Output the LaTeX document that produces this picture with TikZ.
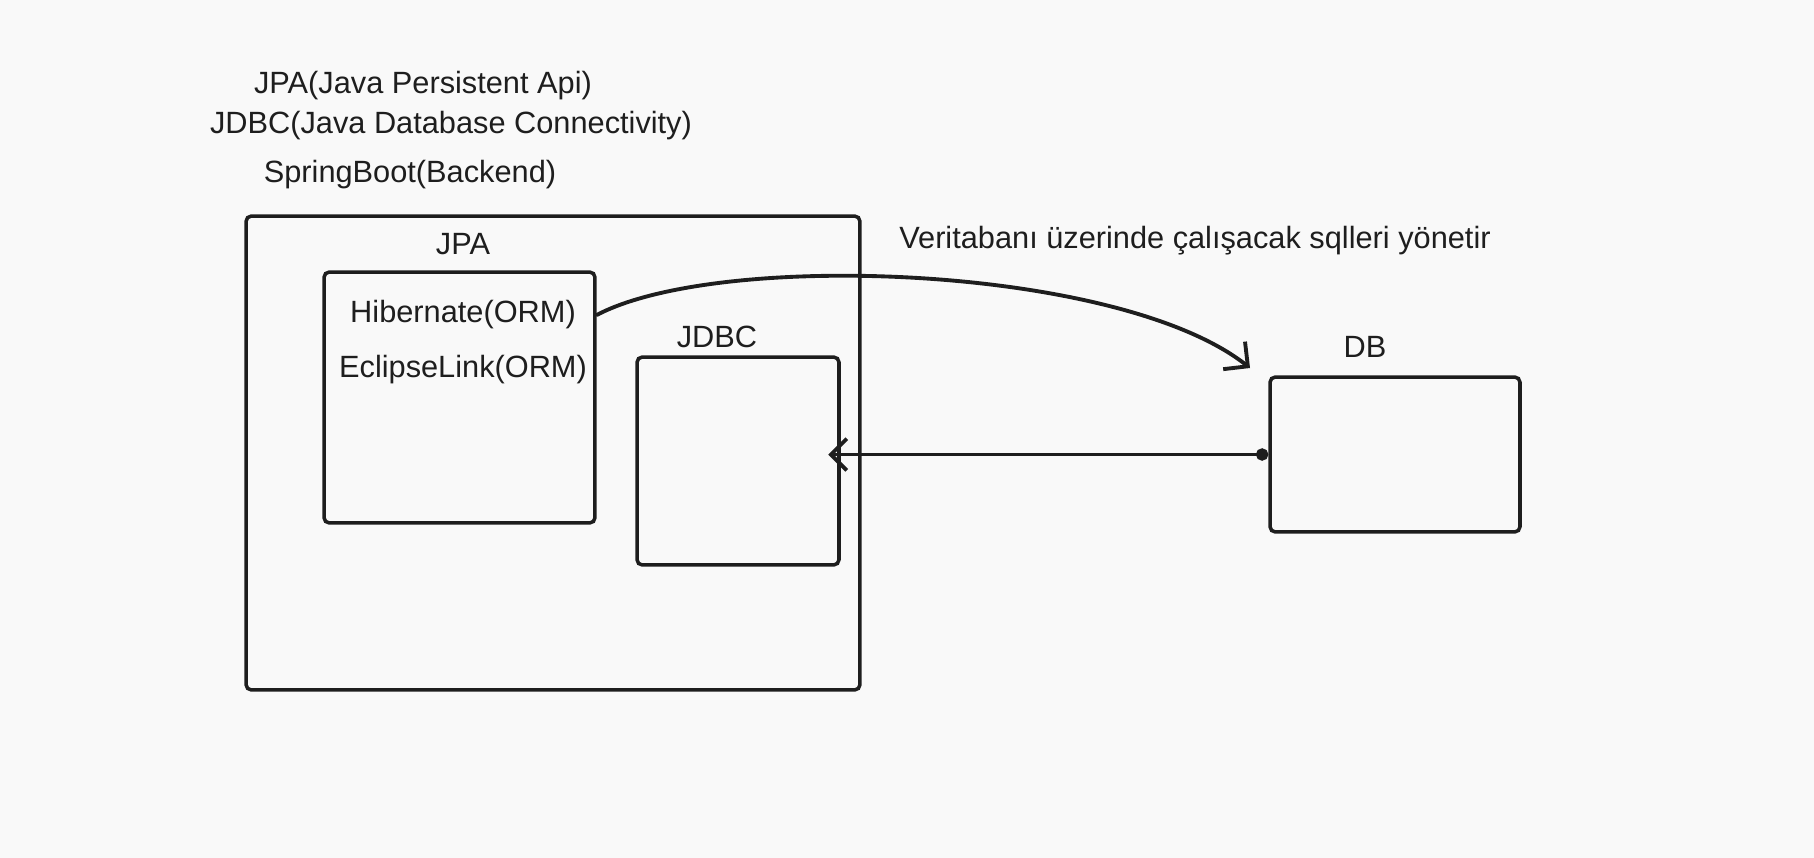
\documentclass[tikz,border=0pt]{standalone}
\usepackage{fontspec}
\setmainfont{Liberation Sans}
\usepackage{xcolor}
\usetikzlibrary{arrows.meta}
\definecolor{ink}{RGB}{30,30,30}
\definecolor{paper}{RGB}{249,249,249}

\begin{document}
\begin{tikzpicture}[x=0.02cm, y=-0.02cm,
    box/.style={draw=ink, line width=2pt, rounded corners=3pt, inner sep=0pt},
    txt/.style={text=ink, font=\fontsize{17.5}{20}\selectfont, inner sep=0pt},
    conn/.style={draw=ink, line width=2.2pt, line cap=round}]
    % Background
    \fill[paper] (0,0) rectangle (1814,858);
    \useasboundingbox (0,0) rectangle (1814,858);

    % Notes on top
    \node[txt] (jpanote) at (423,86) {JPA(Java Persistent Api)};
    \node[txt] (jdbcnote) at (451,126) {JDBC(Java Database Connectivity)};
    \node[txt] (springnote) at (410,175) {SpringBoot(Backend)};

    % Boxes
    \node[box, minimum width=12.28cm, minimum height=9.48cm] (spring) at (553,453) {};
    \node[txt] (jpalbl) at (463,244) {JPA};
    \node[box, minimum width=5.42cm, minimum height=5.02cm] (hib) at (459.5,397.5) {};
    \node[txt] (hibtxt) at (463,315) {Hibernate(ORM)};
    \node[txt] (ecltxt) at (463,370) {EclipseLink(ORM)};
    \node[txt] (jdbclbl) at (717,337) {JDBC};
    \node[box, minimum width=4.04cm, minimum height=4.16cm] (jdbc) at (738,461) {};
    \node[txt] (dblbl) at (1365,347) {DB};
    \node[box, minimum width=5cm, minimum height=3.1cm] (db) at (1395,454.5) {};

    % Label of the curved arrow
    \node[txt] (sqlnote) at (1195,241) {Veritabanı üzerinde çalışacak sqlleri yönetir};
    \coordinate (dbin) at (1250,368);

    % Arrows
    \draw[conn, -{Straight Barb[length=10pt, width=20pt, line width=2.2pt]}]
        (hib.east |- hibtxt) .. controls (720,250) and (1120,265) .. (dbin);
    \draw[conn, {Circle[length=7pt]}-{Straight Barb[length=9pt, width=18pt, line width=2.2pt]}, shorten >=-0.25cm]
        (db.west) -- (jdbc.east |- db.west);
\end{tikzpicture}
\end{document}
